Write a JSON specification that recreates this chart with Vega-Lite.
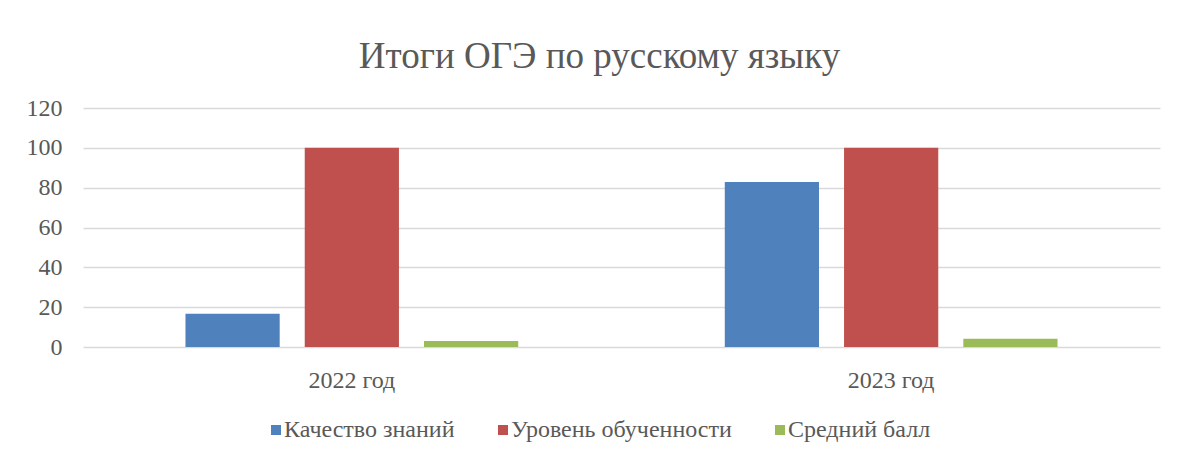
{
  "$schema": "https://vega.github.io/schema/vega-lite/v6.json",
  "width": 1077,
  "height": 239,
  "autosize": "none",
  "padding": {"left": 83, "top": 108, "right": 18, "bottom": 112},
  "background": "white",
  "title": {
    "text": "Итоги ОГЭ по русскому языку",
    "font": "Liberation Serif",
    "fontSize": 37,
    "fontWeight": "normal",
    "color": "#595959",
    "anchor": "middle",
    "dx": -22,
    "offset": 20
  },
  "data": {
    "values": [
      {"year": "2022 год", "series": "Качество знаний", "value": 16.7},
      {"year": "2022 год", "series": "Уровень обученности", "value": 100},
      {"year": "2022 год", "series": "Средний балл", "value": 3.0},
      {"year": "2023 год", "series": "Качество знаний", "value": 82.8},
      {"year": "2023 год", "series": "Уровень обученности", "value": 100},
      {"year": "2023 год", "series": "Средний балл", "value": 4.1}
    ]
  },
  "mark": {"type": "bar"},
  "encoding": {
    "x": {
      "field": "year",
      "type": "nominal",
      "scale": {"paddingInner": 0.383, "paddingOuter": 0.19},
      "axis": {
        "title": null,
        "labelAngle": 0,
        "domain": false,
        "ticks": false,
        "tickSize": 0,
        "labelPadding": 21,
        "labelFont": "Liberation Serif",
        "labelFontSize": 24,
        "labelColor": "#595959",
        "grid": false
      }
    },
    "xOffset": {
      "field": "series",
      "type": "nominal",
      "sort": ["Качество знаний", "Уровень обученности", "Средний балл"],
      "scale": {"paddingInner": 0.21, "paddingOuter": 0}
    },
    "y": {
      "field": "value",
      "type": "quantitative",
      "scale": {"domain": [0, 120]},
      "axis": {
        "values": [0, 20, 40, 60, 80, 100, 120],
        "title": null,
        "domain": false,
        "ticks": false,
        "tickSize": 0,
        "labelPadding": 21,
        "labelFont": "Liberation Serif",
        "labelFontSize": 24,
        "labelColor": "#595959",
        "gridColor": "#d9d9d9",
        "gridWidth": 1.5
      }
    },
    "color": {
      "field": "series",
      "type": "nominal",
      "sort": ["Качество знаний", "Уровень обученности", "Средний балл"],
      "scale": {
        "domain": ["Качество знаний", "Уровень обученности", "Средний балл"],
        "range": ["#4f81bd", "#c0504d", "#9bbb59"]
      },
      "legend": {
        "orient": "none",
        "legendX": 181,
        "legendY": 310,
        "direction": "horizontal",
        "title": null,
        "symbolType": "square",
        "symbolSize": 100,
        "symbolStrokeWidth": 0,
        "labelFont": "Liberation Serif",
        "labelFontSize": 24,
        "labelColor": "#595959",
        "labelLimit": 500,
        "labelOffset": -4,
        "columnPadding": 36
      }
    }
  },
  "config": {
    "view": {"stroke": null},
    "font": "Liberation Serif"
  }
}
